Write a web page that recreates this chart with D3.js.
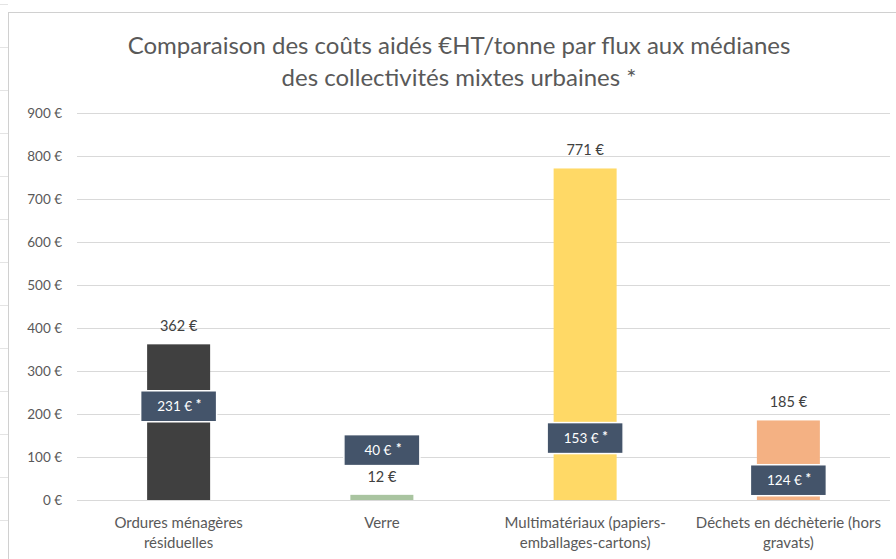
<!DOCTYPE html>
<html>
<head>
<meta charset="utf-8">
<script src="https://cdn.jsdelivr.net/npm/d3@7"></script>
<style>
  body { margin: 0; background: #fff; }
  svg { display: block; font-family: Lato, "Liberation Sans", sans-serif; }
</style>
</head>
<body>
<svg id="chart" width="896" height="559"></svg>
<script>
// categories and values
var categories = [
    ["Ordures ménagères", "résiduelles"],
    ["Verre"],
    ["Multimatériaux (papiers-", "emballages-cartons)"],
    ["Déchets en déchèterie (hors", "gravats)"]
];
var costs = [362, 12, 771, 185];             // coût aidé, collectivités mixtes urbaines
var medians = [231, 40, 153, 124];           // valeurs * affichées dans les étiquettes
var medianLabelAt = [218, 116, 144, 46];     // où l'étiquette est posée (en €)
var barColors = ["#404040", "#a9c4a0", "#ffd966", "#f4b183"];
var yTicks = [0, 100, 200, 300, 400, 500, 600, 700, 800, 900];
var titleLines = [
    "Comparaison des coûts aidés €HT/tonne par flux aux médianes",
    "des collectivités mixtes urbaines *"
];

var svg = d3.select("#chart");
var margin = {top: 113, right: 6, bottom: 59, left: 77};
var width = 896 - margin.left - margin.right;
var height = 559 - margin.top - margin.bottom;

// chart frame
svg.append("rect")
    .attr("x", 8.5).attr("y", 12.5)
    .attr("width", 900).attr("height", 600)
    .attr("fill", "none").attr("stroke", "#d0d0d0");

// small ticks left of the frame (sheet rows)
d3.range(4, 559, 43).forEach(function(y){
    svg.append("line").attr("x1", 0).attr("x2", 8)
        .attr("y1", y + 0.5).attr("y2", y + 0.5)
        .attr("stroke", "#e4e4e4");
});

svg.selectAll(".title")
    .data(titleLines)
    .enter().append("text")
    .attr("class", "title")
    .attr("x", 459)
    .attr("y", function(d, i){ return 54 + i * 32; })
    .attr("text-anchor", "middle")
    .attr("fill", "#595959")
    .style("font-size", "24px")
    .text(function(d){ return d; });

var g = svg.append("g")
    .attr("transform", "translate(" + margin.left + "," + margin.top + ")");

var x = d3.scaleBand().domain(d3.range(categories.length)).range([0, width]);
var y = d3.scaleLinear().domain([0, 900]).range([height, 0]);

// gridlines
g.selectAll(".grid")
    .data(yTicks)
    .enter().append("line")
    .attr("class", "grid")
    .attr("x1", 0).attr("x2", width)
    .attr("y1", function(d){ return Math.round(y(d)) + 0.5; })
    .attr("y2", function(d){ return Math.round(y(d)) + 0.5; })
    .attr("stroke", "#d9d9d9")
    .attr("stroke-width", 1.2);

// y axis labels
var yAxis = d3.axisLeft(y).tickValues(yTicks)
    .tickFormat(function(d){ return d + " €"; })
    .tickSize(0).tickPadding(15);
var ya = g.append("g").call(yAxis);
ya.select(".domain").remove();
ya.selectAll("text")
    .attr("fill", "#595959")
    .style("font-size", "13.5px")
    .style("font-family", "Lato, sans-serif");

var barW = x.bandwidth() * 0.31;

// bars
g.selectAll(".bar")
    .data(costs)
    .enter().append("rect")
    .attr("class", "bar")
    .attr("x", function(d, i){ return x(i) + x.bandwidth() / 2 - barW / 2; })
    .attr("y", function(d){ return y(d); })
    .attr("width", barW)
    .attr("height", function(d){ return y(0) - y(d); })
    .attr("fill", function(d, i){ return barColors[i]; });

// value labels above bars
g.selectAll(".val")
    .data(costs)
    .enter().append("text")
    .attr("class", "val")
    .attr("x", function(d, i){ return x(i) + x.bandwidth() / 2; })
    .attr("y", function(d){ return y(d) - 13; })
    .attr("text-anchor", "middle")
    .attr("fill", "#404040")
    .style("font-size", "14.5px")
    .text(function(d){ return d + " €"; });

// median boxes
var boxW = 76, boxH = 31;
var box = g.selectAll(".med")
    .data(medians)
    .enter().append("g")
    .attr("class", "med")
    .attr("transform", function(d, i){
        return "translate(" + (x(i) + x.bandwidth() / 2) + "," + y(medianLabelAt[i]) + ")";
    });
box.append("rect")
    .attr("x", -boxW / 2).attr("y", -boxH / 2)
    .attr("width", boxW).attr("height", boxH)
    .attr("fill", "#44546a")
    .attr("stroke", "#ffffff")
    .attr("stroke-width", 1.5);
box.append("text")
    .attr("x", -4).attr("y", 5)
    .attr("text-anchor", "middle")
    .attr("fill", "#ffffff")
    .style("font-size", "13.5px")
    .text(function(d){ return d + " €"; });
box.append("text")
    .attr("x", function(d){ return d >= 100 ? 17 : 14; }).attr("y", 3)
    .attr("fill", "#ffffff")
    .style("font-size", "13px")
    .style("font-weight", "bold")
    .text("*");

// category labels
var cat = g.selectAll(".cat")
    .data(categories)
    .enter().append("text")
    .attr("class", "cat")
    .attr("x", function(d, i){ return x(i) + x.bandwidth() / 2; })
    .attr("y", height + 28)
    .attr("text-anchor", "middle")
    .attr("fill", "#595959")
    .style("font-size", "15px");
cat.selectAll("tspan")
    .data(function(d){ return d; })
    .enter().append("tspan")
    .attr("x", function(){ return d3.select(this.parentNode).attr("x"); })
    .attr("dy", function(d, i){ return i === 0 ? 0 : 20; })
    .text(function(d){ return d; });
</script>
</body>
</html>
